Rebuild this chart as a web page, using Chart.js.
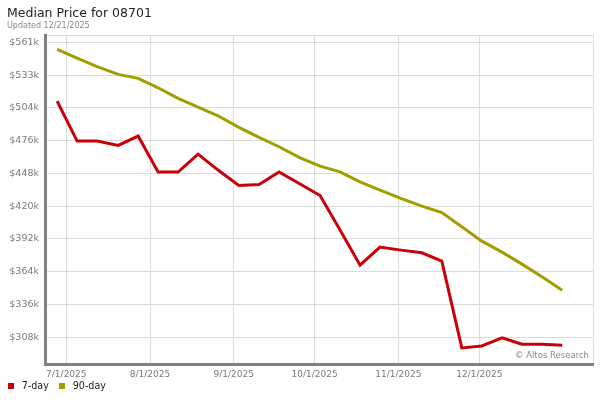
<!DOCTYPE html>
<html>
<head>
<meta charset="utf-8">
<script src="https://cdn.jsdelivr.net/npm/chart.js@4.4.1/dist/chart.umd.min.js"></script>
<style>
  html, body { margin: 0; padding: 0; background: #fff; }
  #wrap { position: relative; width: 600px; height: 400px; }
  #legend { position: absolute; left: 8px; top: 380px; font: 9.6px "DejaVu Sans"; color: #222; white-space: nowrap; }
  #legend span.item { position: absolute; top: 0; line-height: 12px; }
  #legend i { position: absolute; width: 6px; height: 6px; top: 2.7px; }
</style>
</head>
<body>
<div id="wrap">
  <canvas id="price"></canvas>
  <div id="legend"></div>
</div>
<script>
// days after 7/1/2025 for each weekly point
const dayOffsets = [-3.4, 4.0, 11.4, 19.2, 26.6, 34.0, 41.4, 48.8, 56.2, 63.9, 71.4, 78.8, 86.6,
    94.0, 101.4, 108.8, 116.2, 123.9, 131.7, 139.1, 146.5, 153.9, 161.4, 168.8, 176.2, 183.7];
// prices in $k
const sevenDay = [510.6, 476.3, 476.3, 472.6, 480.6, 449.7, 449.7, 465.1, 451.4, 438.2, 439.1, 449.7, 439.4,
    429.6, 399.9, 369.8, 385.3, 382.7, 380.4, 373.2, 298.8, 300.5, 307.4, 302.0, 302.0, 301.1];
const ninetyDay = [555.0, 547.5, 540.1, 533.5, 530.1, 522.0, 512.9, 505.5, 498.0, 488.1, 479.4, 471.4, 461.9,
    454.8, 449.9, 441.3, 434.2, 427.1, 420.5, 415.0, 402.7, 390.4, 381.0, 370.7, 359.8, 348.3];

const xTickDays = [0, 31, 62, 92, 123, 153];
const xTickLabels = ['7/1/2025', '8/1/2025', '9/1/2025', '10/1/2025', '11/1/2025', '12/1/2025'];
const yTickValues = [308.0, 336.1, 364.2, 392.3, 420.4, 448.6, 476.7, 504.8, 532.9, 561.0];
const yTickLabels = ['$308k', '$336k', '$364k', '$392k', '$420k', '$448k', '$476k', '$504k', '$533k', '$561k'];

const seriesNames = ['7-day', '90-day'];
const seriesColors = ['#c8000a', '#a39e00'];

const xMin = -7.9, xMax = 195.1;
const yMin = 285.0, yMax = 567.3;

const toPoints = vals => vals.map((v, i) => ({ x: dayOffsets[i], y: v }));

const watermark = {
    id: 'watermark',
    afterDatasetsDraw(chart) {
        const ctx = chart.ctx, a = chart.chartArea;
        ctx.save();
        ctx.font = '8.5px "DejaVu Sans"';
        ctx.fillStyle = '#888';
        ctx.textAlign = 'right';
        ctx.textBaseline = 'bottom';
        ctx.fillText('\u00A9 Altos Research', a.right - 4, a.bottom - 4);
        ctx.restore();
    }
};

new Chart('price', {
    type: 'line',
    data: {
        datasets: [{
            label: seriesNames[0],
            data: toPoints(sevenDay),
            borderColor: seriesColors[0],
            borderWidth: 3,
            pointRadius: 0,
            tension: 0,
            fill: false
        }, {
            label: seriesNames[1],
            data: toPoints(ninetyDay),
            borderColor: seriesColors[1],
            borderWidth: 3,
            pointRadius: 0,
            tension: 0,
            fill: false
        }]
    },
    options: {
        responsive: true,
        maintainAspectRatio: false,
        animation: false,
        layout: { padding: { left: 7, right: 7, top: 0, bottom: 16 } },
        scales: {
            x: {
                type: 'linear',
                min: xMin,
                max: xMax,
                afterBuildTicks: s => {
                    s.ticks = xTickDays.map(v => ({ value: v })).concat([{ value: xMax }]);
                },
                afterFit: s => { s.height = 20; },
                ticks: {
                    autoSkip: false,
                    maxRotation: 0,
                    padding: 5,
                    color: '#7a7a7a',
                    font: { family: 'DejaVu Sans', size: 9 },
                    callback: v => {
                        const i = xTickDays.indexOf(v);
                        return i >= 0 ? xTickLabels[i] : '';
                    }
                },
                grid: { color: '#dcdcdc', lineWidth: 1, drawTicks: false },
                border: { color: '#808080', width: 3 }
            },
            y: {
                type: 'linear',
                min: yMin,
                max: yMax,
                afterBuildTicks: s => {
                    s.ticks = yTickValues.map(v => ({ value: v })).concat([{ value: yMax }]);
                },
                afterFit: s => { s.width = 38; },
                ticks: {
                    autoSkip: false,
                    padding: 6,
                    color: '#7a7a7a',
                    font: { family: 'DejaVu Sans', size: 9.5 },
                    callback: v => {
                        const i = yTickValues.indexOf(v);
                        return i >= 0 ? yTickLabels[i] : '';
                    }
                },
                grid: { color: '#dcdcdc', lineWidth: 1, drawTicks: false },
                border: { color: '#808080', width: 3 }
            }
        },
        plugins: {
            title: {
                display: true,
                text: 'Median Price for 08701',
                align: 'start',
                color: '#222',
                font: { family: 'DejaVu Sans', size: 12.5, weight: 'normal', lineHeight: 1.2 },
                padding: { top: 6, bottom: 0 }
            },
            subtitle: {
                display: true,
                text: 'Updated 12/21/2025',
                align: 'start',
                color: '#888',
                font: { family: 'DejaVu Sans', size: 8, lineHeight: 1.2 },
                padding: { top: 0, bottom: 4.4 }
            },
            legend: { display: false },
            tooltip: { enabled: false }
        }
    },
    plugins: [watermark]
});

// legend below the axis
const legendEl = document.getElementById('legend');
const legendX = [0, 50.7];
seriesNames.forEach((name, i) => {
    const item = document.createElement('span');
    item.className = 'item';
    item.style.left = legendX[i] + 'px';
    const box = document.createElement('i');
    box.style.left = '0px';
    box.style.background = seriesColors[i];
    const label = document.createElement('span');
    label.style.paddingLeft = (i === 0 ? 13.7 : 14) + 'px';
    label.textContent = name;
    item.appendChild(box);
    item.appendChild(label);
    legendEl.appendChild(item);
});
</script>
</body>
</html>
